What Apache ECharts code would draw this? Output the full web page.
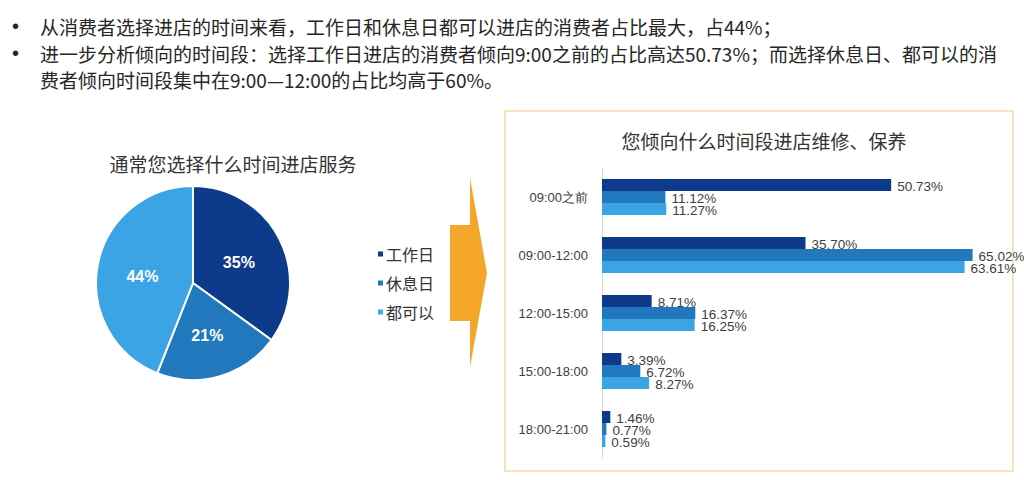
<!DOCTYPE html>
<html><head><meta charset="utf-8">
<script src="https://cdn.jsdelivr.net/npm/echarts@6/dist/echarts.min.js"></script>
<style>html,body{margin:0;padding:0;background:#fff}#c{width:1024px;height:480px}</style>
</head><body><div id="c"></div>
<script>
const bulletLines = [
  '从消费者选择进店的时间来看，工作日和休息日都可以进店的消费者占比最大，占44%；',
  '进一步分析倾向的时间段：选择工作日进店的消费者倾向9:00之前的占比高达50.73%；而选择休息日、都可以的消',
  '费者倾向时间段集中在9:00—12:00的占比均高于60%。'
];
const pieTitle = '通常您选择什么时间进店服务';
const barTitle = '您倾向什么时间段进店维修、保养';
const seriesNames = ['工作日', '休息日', '都可以'];
const pieValues = [35, 21, 44];
const timeSlots = ['09:00之前', '09:00-12:00', '12:00-15:00', '15:00-18:00', '18:00-21:00'];
const workdayVals = [50.73, 35.70, 8.71, 3.39, 1.46];
const restdayVals = [11.12, 65.02, 16.37, 6.72, 0.77];
const anytimeVals = [11.27, 63.61, 16.25, 8.27, 0.59];
const colors = ['#0e3a8b', '#2278bd', '#3ba4e4'];

const FONT = '"Noto Sans CJK SC", "Noto Sans", sans-serif';
const LATIN = '"Liberation Sans", Arial, sans-serif';
const chart = echarts.init(document.getElementById('c'), null, {renderer: 'svg'});

const textEls = [];
const lineY = [26, 53, 79];
bulletLines.forEach((t, i) => {
  if (i !== 2) textEls.push({type: 'text', x: 12, y: lineY[i], style: {text: '•', font: '20px ' + LATIN, fill: '#262626', textVerticalAlign: 'middle'}});
  textEls.push({type: 'text', x: 40, y: lineY[i], style: {text: t, font: '19px ' + FONT, fill: '#262626', textVerticalAlign: 'middle'}});
});

const barSeries = [workdayVals, restdayVals, anytimeVals].map((vals, i) => ({
  type: 'bar', name: seriesNames[i], data: vals, barWidth: 12, barGap: '0%',
  itemStyle: {color: colors[i]},
  label: {show: true, position: 'right', distance: 6, formatter: p => p.value.toFixed(2) + '%',
          fontSize: 13.5, lineHeight: 11, color: '#404040', fontFamily: LATIN, offset: [0, 1]}
}));

chart.setOption({
  animation: false,
  textStyle: {fontFamily: FONT},
  title: [
    {text: pieTitle, left: 228, top: 149, textAlign: 'center', textStyle: {fontSize: 19, fontWeight: 'normal', color: '#333'}},
    {text: barTitle, left: 759, top: 126, textAlign: 'center', textStyle: {fontSize: 19, fontWeight: 'normal', color: '#333'}}
  ],
  legend: {
    data: seriesNames, orient: 'vertical', left: 373, top: 241,
    icon: 'rect', itemWidth: 5, itemHeight: 5, itemGap: 13,
    textStyle: {fontSize: 16, color: '#333', padding: [0, 0, 0, -2]}
  },
  grid: {left: 602, top: 168, width: 399, height: 290, containLabel: false},
  xAxis: {type: 'value', min: 0, max: 70, show: false, splitLine: {show: false}},
  yAxis: {
    type: 'category', data: timeSlots, inverse: true,
    axisLine: {lineStyle: {color: '#d9d9d9'}}, axisTick: {show: false},
    axisLabel: {fontSize: 13, color: '#404040', margin: 14, fontFamily: LATIN}
  },
  graphic: textEls.concat([
    {type: 'polygon', shape: {points: [[450,225],[470,225],[470,178],[487,273],[470,367],[470,321],[450,321]]},
     style: {fill: '#f4a62a'}},
    {type: 'rect', shape: {x: 505, y: 111, width: 508, height: 360}, style: {fill: 'none', stroke: '#f3dba8', lineWidth: 1.5}, z: -1}
  ]),
  series: [
    {
      type: 'pie', center: [193, 283], radius: 97, startAngle: 90, clockwise: true,
      data: pieValues.map((v, i) => ({name: seriesNames[i], value: v, itemStyle: {color: colors[i]}})),
      itemStyle: {borderColor: '#fff', borderWidth: 2},
      label: {show: true, position: 'inside', formatter: p => p.value + '%', color: '#fff', fontSize: 16, fontWeight: 'bold',
              fontFamily: LATIN, offset: [0, 3]},
      labelLine: {show: false}
    }
  ].concat(barSeries)
});
</script></body></html>
